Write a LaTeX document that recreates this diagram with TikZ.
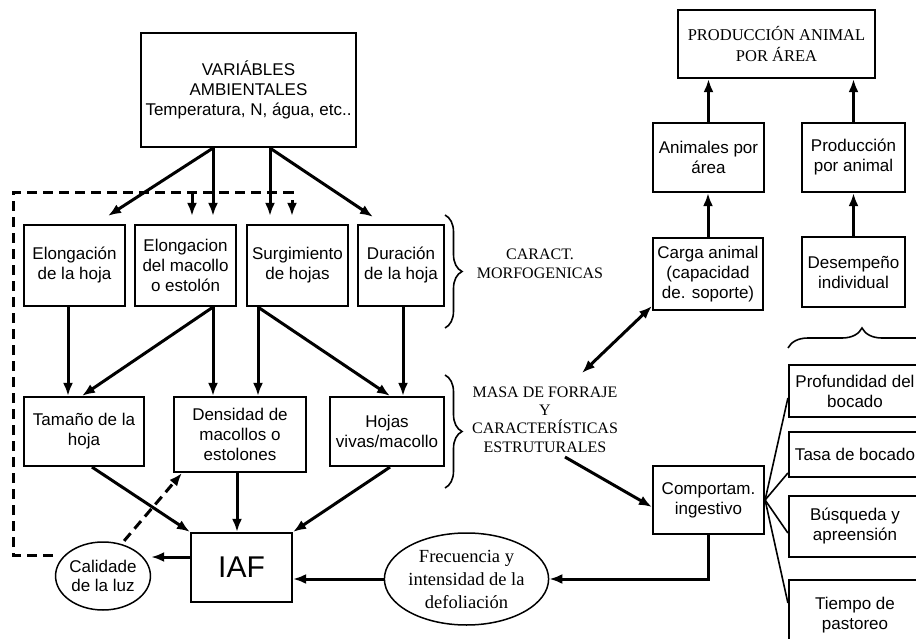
\documentclass[tikz,border=0pt]{standalone}
\usepackage{fontspec}
\setmainfont{Liberation Serif}
\setsansfont{Liberation Sans}
\usetikzlibrary{arrows.meta,decorations.pathreplacing,shapes.geometric,calc}
\begin{document}
\begin{tikzpicture}[x=1pt,y=-1pt,
  box/.style={draw, line width=2.2pt, inner sep=0pt, align=center, font=\sffamily\fontsize{17}{20}\selectfont},
  ell/.style={draw, ellipse, line width=1.5pt, inner sep=0pt, align=center},
  tip/.style={-{Latex[length=13pt,width=10pt]}},
  arr/.style={line width=3pt, tip},
  dsh/.style={line width=3pt, dash pattern=on 10pt off 6pt},
  fan/.style={line width=1.6pt},
  brc/.style={decorate, decoration={brace, amplitude=#1}, line width=1.6pt},
  lbl/.style={inner sep=0pt, align=center, font=\fontsize{16}{19.5}\selectfont}
]
\useasboundingbox (0,0) rectangle (916,639);

% ---- nodes
\node[box,minimum width=215pt,minimum height=114pt] (vars) at (248.5,90) {VARIÁBLES\\AMBIENTALES\\Temperatura, N, água, etc..};
\node[box,minimum width=101pt,minimum height=81pt] (e1) at (74.5,265.5) {Elongación\\de la hoja};
\node[box,minimum width=101pt,minimum height=81pt] (e2) at (185.5,265.5) {Elongacion\\del macollo\\o estolón};
\node[box,minimum width=101pt,minimum height=81pt] (e3) at (297.5,265.5) {Surgimiento\\de hojas};
\node[box,minimum width=86pt,minimum height=81pt] (e4) at (401,265.5) {Duración\\de la hoja};
\node[box,minimum width=120pt,minimum height=69pt] (t1) at (84,431.5) {Tamaño de la\\hoja};
\node[box,minimum width=132pt,minimum height=75pt] (t2) at (240,434.5) {Densidad de\\macollos o\\estolones};
\node[box,minimum width=114pt,minimum height=69pt] (t3) at (387,431.5) {Hojas\\vivas/macollo};
\node[box,minimum width=101pt,minimum height=69pt,font=\sffamily\fontsize{30}{34}\selectfont] (iaf) at (241.5,567.5) {IAF};
\node[ell,minimum width=90pt,minimum height=68pt,font=\sffamily\fontsize{17}{19}\selectfont] (cal) at (103,576) {Calidade\\de la luz};
\node[ell,minimum width=153pt,minimum height=92pt,font=\fontsize{18.5}{23}\selectfont] (fre) at (466.5,579) {Frecuencia y\\intensidad de la\\defoliación};
\node[box,minimum width=111pt,minimum height=68pt] (comp) at (708.5,500) {Comportam.\\ingestivo};
\node[box,minimum width=110pt,minimum height=72pt] (carga) at (708,274) {Carga animal\\(capacidad\\de. soporte)};
\node[box,minimum width=103pt,minimum height=70pt] (des) at (853.5,272) {Desempeño\\individual};
\node[box,minimum width=111pt,minimum height=69pt] (anim) at (708.5,157.5) {Animales por\\área};
\node[box,minimum width=103pt,minimum height=69pt] (ppa) at (853.5,157.5) {Producción\\por animal};
\node[box,minimum width=197pt,minimum height=68pt,font=\fontsize{16.5}{21.5}\selectfont] (prod) at (776.5,44) {PRODUCCIÓN ANIMAL\\POR ÁREA};
\node[box,minimum width=132pt,minimum height=52pt] (r1) at (855,391) {Profundidad del\\bocado};
\node[box,minimum width=132pt,minimum height=45pt] (r2) at (855,454.5) {Tasa de bocado};
\node[box,minimum width=132pt,minimum height=61pt] (r3) at (855,526.5) {Búsqueda y\\apreensión};
\node[box,minimum width=132pt,minimum height=70pt] (r4) at (855,615) {Tiempo de\\pastoreo};

\node[lbl] (car) at (540,264) {CARACT.\\MORFOGENICAS};
\node[lbl,font=\fontsize{16}{18.3}\selectfont] (masa) at (545,419.5) {MASA DE FORRAJE\\Y\\CARACTERÍSTICAS\\ESTRUTURALES};

% ---- connectors from environment
\draw[arr] ([xshift=-35.5pt]vars.south) -- ([shift={(33.5pt,8pt)}]e1.north);
\draw[arr] ([xshift=-35.5pt]vars.south) -- ([shift={(27.5pt,8pt)}]e2.north);
\draw[arr] ([xshift=21.5pt]vars.south) -- ([shift={(-27.5pt,8pt)}]e3.north);
\draw[arr] ([xshift=21.5pt]vars.south) -- ([shift={(-28pt,7pt)}]e4.north);

% ---- dashed feedback
\coordinate (dc) at (13,193);
\coordinate (dj) at (192,193);
\draw[dsh,tip] ([shift={(-50pt,21pt)}]cal.center) -| (dc) -| ([shift={(-5.5pt,8pt)}]e3.north);
\draw[dsh,tip] (dj) -- ([shift={(6.5pt,8pt)}]e2.north);
\draw[dsh,tip,shorten <=4pt] (cal.60) -- ([xshift=9pt]t2.south west);

% ---- row 1 -> row 2
\draw[arr] ([xshift=-6.5pt]e1.south) -- ([xshift=-16pt]t1.north);
\draw[arr] ([xshift=27.5pt]e2.south) -- ([xshift=-2pt]t1.north);
\draw[arr] ([xshift=27.5pt]e2.south) -- ([xshift=-27pt]t2.north);
\draw[arr] ([xshift=-39.5pt]e3.south) -- ([xshift=18pt]t2.north);
\draw[arr] ([xshift=-39.5pt]e3.south) -- ([xshift=3pt]t3.north);
\draw[arr] ([xshift=2pt]e4.south) -- ([xshift=16pt]t3.north);

% ---- row 2 -> IAF
\draw[arr] ([xshift=8pt]t1.south) -- (iaf.north west);
\draw[arr] ([xshift=-3pt]t2.south) -- ([xshift=-4.5pt]iaf.north);
\draw[arr] ([xshift=3pt]t3.south) -- (iaf.north east);
\draw[arr] ([yshift=10.5pt]iaf.west) -- ([yshift=19pt]cal.east);
\draw[arr] (fre.west) -- (fre.west -| iaf.east);
\draw[arr] (comp.south) |- (fre.east);

% ---- masa connections
\draw[arr] ([shift={(20pt,-4.5pt)}]masa.south) -- ([yshift=-7pt]comp.west);
\draw[line width=3pt,{Latex[length=13pt,width=10pt]}-{Latex[length=13pt,width=10pt]}] ([shift={(37pt,13.5pt)}]masa.north) -- ([yshift=5pt]carga.south west);

% ---- right column
\draw[arr] (carga.north) -- (carga.north |- anim.south);
\draw[arr] (des.north) -- (des.north |- ppa.south);
\draw[arr] (anim.north) -- (anim.north |- prod.south);
\draw[arr] (ppa.north) -- (ppa.north |- prod.south);

\draw[fan] (comp.east) -- ([yshift=-7pt]r1.west);
\draw[fan] (comp.east) -- ([yshift=-18.5pt]r2.west);
\draw[fan] (comp.east) -- ([yshift=-6.5pt]r3.west);
\draw[fan] (comp.east) -- ([yshift=12pt]r4.west);

% ---- braces
\draw[brc=17pt] (445,215) -- (445,328);
\draw[brc=17pt] (445,375) -- (445,488);
\draw[brc=20pt] (788,348) -- (936,348);
\end{tikzpicture}
\end{document}
